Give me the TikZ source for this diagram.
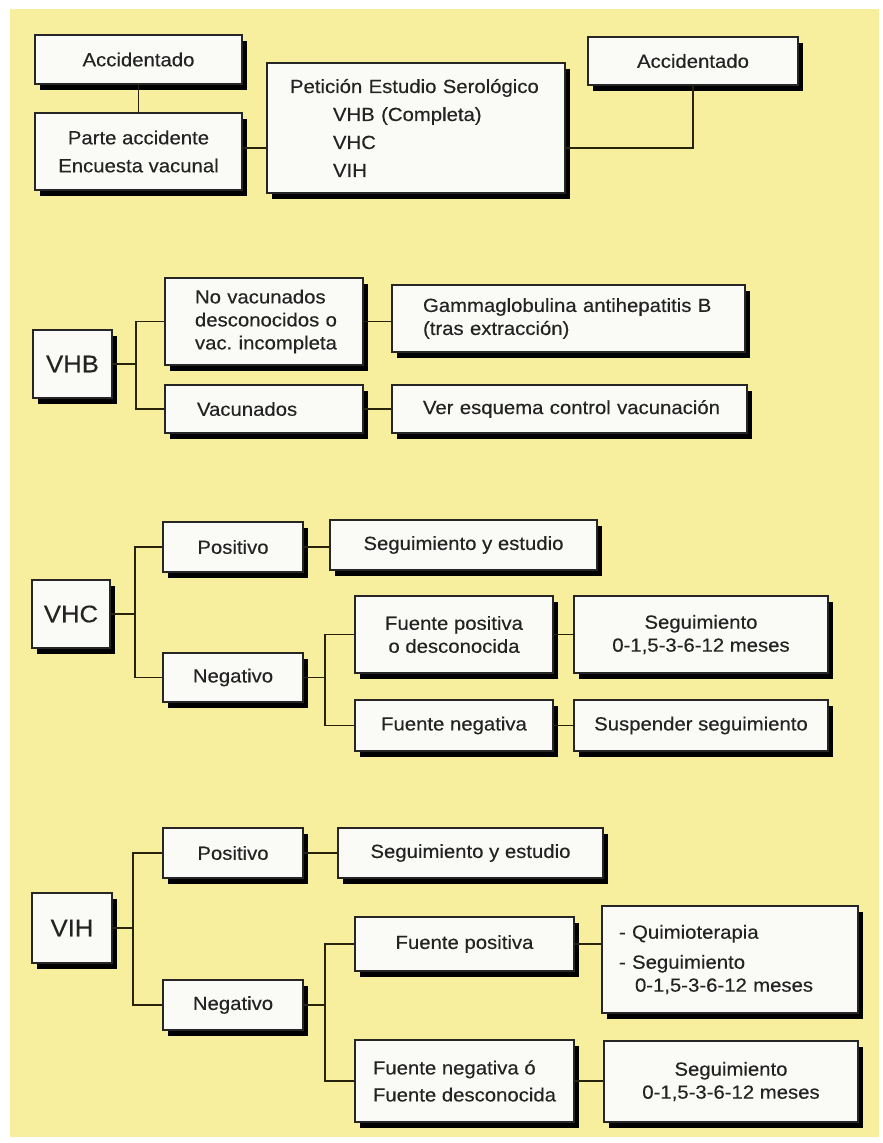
\documentclass[tikz,border=0pt]{standalone}
\usepackage{fontspec}
\setmainfont{Liberation Sans}[FakeStretch=1.07,FakeBold=0.3]
\usetikzlibrary{shadows}
\definecolor{bgyellow}{RGB}{247,238,158}
\definecolor{boxfill}{RGB}{250,250,247}
\definecolor{txt}{RGB}{35,35,35}
\definecolor{linec}{RGB}{40,36,12}
\newcommand{\fsa}{\fontsize{19}{23}\selectfont}
\newcommand{\fsb}{\fontsize{19}{28}\selectfont}
\newcommand{\fsc}{\fontsize{19}{27}\selectfont}
\newcommand{\fsbig}{\fontsize{24}{28}\selectfont}
\begin{document}
\begin{tikzpicture}[x=1pt,y=-1pt,
  box/.style={draw=black!85, line width=1.1pt, fill=boxfill, inner sep=0pt, text=txt,
    drop shadow={shadow xshift=5pt, shadow yshift=-6pt, fill=black, opacity=1},
    font=\fsa, align=center},
  bx/.style 2 args={box, minimum width=#1pt, minimum height=#2pt},
  lft/.style 2 args={align=left, inner xsep=#1pt, text width=#2pt,
    execute at begin node={\hyphenpenalty=10000\exhyphenpenalty=10000}},
  big/.style={font=\fsbig},
  conn/.style={draw=linec, line width=1.6pt}]
\useasboundingbox (0,0) rectangle (883,1143);
\fill[white] (0,0) rectangle (883,1143);
\fill[bgyellow] (10,9) rectangle (879,1137);

% ---- top row
\node[bx={207}{49}] (accL) at (138.5,59.5) {Accidentado};
\node[bx={207}{77}, font=\fsb] (parte) at (138.5,151.5) {Parte accidente\\Encuesta vacunal};
\node[bx={298}{130}, lft={23}{252}, font=\fsb] (pet) at (416,128)
  {Petición Estudio Serológico\\\hspace*{43pt}VHB (Completa)\\\hspace*{43pt}VHC\\\hspace*{43pt}VIH};
\node[bx={210}{48}] (accR) at (693,61) {Accidentado};
\coordinate (r1) at (0,148);
\draw[conn] (accL) -- (parte);
\draw[conn] (parte.east |- r1) -- (pet.west |- r1);
\draw[conn] (pet.east |- r1) -| (accR.south);

% ---- VHB
\node[bx={79}{68}, big] (vhb) at (72.5,364) {VHB};
\node[bx={198}{87}, lft={30}{138}] (novac) at (264,321.5) {No~vacunados\\desconocidos~o\\vac.~incompleta};
\node[bx={198}{48}, lft={32}{134}] (vac) at (264,409) {Vacunados};
\node[bx={353}{67}, lft={31}{291}] (gamma) at (568.5,318.5) {Gammaglobulina~antihepatitis~B\\(tras~extracción)};
\node[bx={355}{48}, lft={31}{293}] (vesq) at (569.5,409) {Ver~esquema~control~vacunación};
\coordinate (b1) at (136,364);
\draw[conn] (vhb.east) -- (b1);
\draw[conn] (novac.west) -| (b1) |- (vac.west);
\draw[conn] (novac.east) -- (novac.east -| gamma.west);
\draw[conn] (vac.east) -- (vac.east -| vesq.west);

% ---- VHC
\node[bx={78}{68}, big] (vhc) at (71,614) {VHC};
\node[bx={140}{50}] (pos1) at (233,547) {Positivo};
\node[bx={140}{49}] (neg1) at (233,677.5) {Negativo};
\node[bx={267}{50}] (seg1) at (463.5,545) {Seguimiento y estudio};
\node[bx={198}{77}] (fpos1) at (454,634.5) {Fuente positiva\\o desconocida};
\node[bx={254}{77}] (seg2) at (701,634.5) {Seguimiento\\0-1,5-3-6-12 meses};
\node[bx={198}{51}] (fneg1) at (454,725.5) {Fuente negativa};
\node[bx={254}{51}] (susp) at (701,725.5) {Suspender seguimiento};
\coordinate (b2) at (135,614);
\coordinate (b3) at (325,677.5);
\draw[conn] (vhc.east) -- (b2);
\draw[conn] (pos1.west) -| (b2) |- (neg1.west);
\draw[conn] (neg1.east) -- (b3);
\draw[conn] (fpos1.west) -| (b3) |- (fneg1.west);
\draw[conn] (pos1.east) -- (pos1.east -| seg1.west);
\draw[conn] (fpos1.east) -- (seg2.west);
\draw[conn] (fneg1.east) -- (susp.west);

% ---- VIH
\node[bx={80}{70}, big] (vih) at (72,928) {VIH};
\node[bx={140}{50}] (pos2) at (233,853) {Positivo};
\node[bx={140}{50}] (neg2) at (233,1005) {Negativo};
\node[bx={265}{50}] (seg3) at (470.5,853) {Seguimiento y estudio};
\node[bx={219}{54}] (fpos2) at (464.5,944) {Fuente positiva};
\node[bx={256}{107}, lft={17}{222}] (quim) at (730,959.5)
  {-~Quimioterapia\\[7pt]-~Seguimiento\\\hspace*{16pt}0-1,5-3-6-12~meses};
\node[bx={219}{82}, align=left, font=\fsc] (fneg2) at (464.5,1081) {Fuente negativa ó\\Fuente desconocida};
\node[bx={254}{81}] (seg4) at (731,1081.5) {Seguimiento\\0-1,5-3-6-12 meses};
\coordinate (b4) at (133,928);
\coordinate (b5) at (325,1005);
\draw[conn] (vih.east) -- (b4);
\draw[conn] (pos2.west) -| (b4) |- (neg2.west);
\draw[conn] (neg2.east) -- (b5);
\draw[conn] (fpos2.west) -| (b5) |- (fneg2.west);
\draw[conn] (pos2.east) -- (pos2.east -| seg3.west);
\draw[conn] (fpos2.east) -- (fpos2.east -| quim.west);
\draw[conn] (fneg2.east) -- (fneg2.east -| seg4.west);
\end{tikzpicture}
\end{document}
